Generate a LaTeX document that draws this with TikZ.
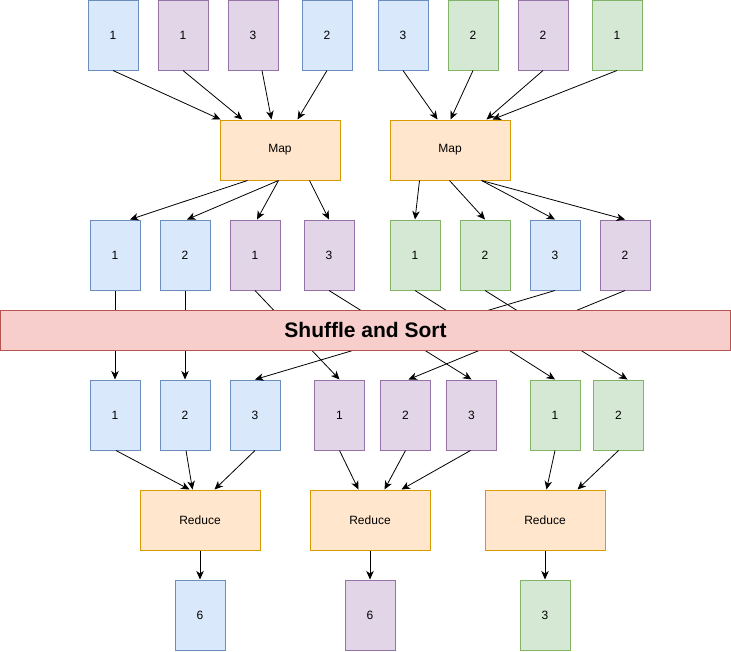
\documentclass[tikz,border=0pt]{standalone}
\usepackage{fontspec}
\setmainfont{Liberation Sans}
\usetikzlibrary{arrows.meta}
\definecolor{bluefill}{HTML}{DAE8FC}\definecolor{blueline}{HTML}{6C8EBF}
\definecolor{purplefill}{HTML}{E1D5E7}\definecolor{purpleline}{HTML}{9673A6}
\definecolor{greenfill}{HTML}{D5E8D4}\definecolor{greenline}{HTML}{82B366}
\definecolor{orangefill}{HTML}{FFE6CC}\definecolor{orangeline}{HTML}{D79B00}
\definecolor{redfill}{HTML}{F8CECC}\definecolor{redline}{HTML}{B85450}
\tikzset{
  card/.style={draw, line width=1pt, minimum width=50pt, minimum height=70pt, inner sep=0pt,
    font=\fontsize{12}{14}\selectfont},
  bluecard/.style={card, fill=bluefill, draw=blueline},
  purplecard/.style={card, fill=purplefill, draw=purpleline},
  greencard/.style={card, fill=greenfill, draw=greenline},
  job/.style={draw=orangeline, fill=orangefill, line width=1pt, minimum width=120pt, minimum height=60pt,
    inner sep=0pt, font=\fontsize{12}{14}\selectfont},
  >={Stealth[length=8.5pt,width=7.5pt,inset=2.5pt]}
}
\begin{document}
\begin{tikzpicture}[x=1pt,y=-1pt,line width=0.8pt]
                \useasboundingbox (0,0) rectangle (731,651);
                % input splits
                \node[bluecard]   (t1) at (113,35) {1};
                \node[purplecard] (t2) at (183,35) {1};
                \node[purplecard] (t3) at (253,35) {3};
                \node[bluecard]   (t4) at (327,35) {2};
                \node[bluecard]   (t5) at (403,35) {3};
                \node[greencard]  (t6) at (473,35) {2};
                \node[purplecard] (t7) at (543,35) {2};
                \node[greencard]  (t8) at (617,35) {1};
                % map
                \node[job] (map1) at (280,150) {Map};
                \node[job] (map2) at (450,150) {Map};
                \draw[->] (t1.south) -- ([xshift=1pt]map1.north west);
                \draw[->] (t2.south) -- ([xshift=23pt]map1.north west);
                \draw[->] ([xshift=9pt]t3.south) -- ([xshift=52pt]map1.north west);
                \draw[->] (t4.south) -- ([xshift=78pt]map1.north west);
                \draw[->] (t5.south) -- ([xshift=48pt]map2.north west);
                \draw[->] (t6.south) -- ([xshift=61pt]map2.north west);
                \draw[->] (t7.south) -- ([xshift=97pt]map2.north west);
                \draw[->] (t8.south) -- ([xshift=103pt]map2.north west);
                % map output
                \node[bluecard]   (m1) at (115,255) {1};
                \node[bluecard]   (m2) at (185,255) {2};
                \node[purplecard] (m3) at (255,255) {1};
                \node[purplecard] (m4) at (329,255) {3};
                \node[greencard]  (m5) at (415,255) {1};
                \node[greencard]  (m6) at (485,255) {2};
                \node[bluecard]   (m7) at (555,255) {3};
                \node[purplecard] (m8) at (625,255) {2};
                \draw[->] ([xshift=28pt]map1.south west) -- ([xshift=15pt]m1.north);
                \draw[->] ([xshift=59pt]map1.south west) -- ([xshift=2pt]m2.north);
                \draw[->] ([xshift=59pt]map1.south west) -- ([xshift=2pt]m3.north);
                \draw[->] ([xshift=90pt]map1.south west) -- (m4.north);
                \draw[->] ([xshift=30pt]map2.south west) -- (m5.north);
                \draw[->] ([xshift=60pt]map2.south west) -- (m6.north);
                \draw[->] ([xshift=92pt]map2.south west) -- (m7.north);
                \draw[->] ([xshift=92pt]map2.south west) -- (m8.north);
                % grouped by key
                \node[bluecard]   (b1) at (115,415) {1};
                \node[bluecard]   (b2) at (185,415) {2};
                \node[bluecard]   (b3) at (255,415) {3};
                \node[purplecard] (b4) at (339.5,415) {1};
                \node[purplecard] (b5) at (405.5,415) {2};
                \node[purplecard] (b6) at (471.5,415) {3};
                \node[greencard]  (b7) at (555,415) {1};
                \node[greencard]  (b8) at (618.5,415) {2};
                \draw[->] (m1.south) -- (b1.north);
                \draw[->] (m2.south) -- (b2.north);
                \draw[->] (m3.south) -- (b4.north);
                \draw[->] (m4.south) -- (b6.north);
                \draw[->] (m5.south) -- (b7.north);
                \draw[->] (m6.south) -- ([xshift=9pt]b8.north);
                \draw[->] (m7.south) -- (b3.north);
                \draw[->] (m8.south) -- ([xshift=3pt]b5.north);
                % reduce
                \node[job] (red1) at (200,520) {Reduce};
                \node[job] (red2) at (370,520) {Reduce};
                \node[job] (red3) at (545,520) {Reduce};
                \draw[->] ([xshift=1pt]b1.south) -- ([xshift=50pt]red1.north west);
                \draw[->] ([xshift=1pt]b2.south) -- ([xshift=53pt]red1.north west);
                \draw[->] (b3.south) -- ([xshift=75pt]red1.north west);
                \draw[->] (b4.south) -- ([xshift=49pt]red2.north west);
                \draw[->] (b5.south) -- ([xshift=75pt]red2.north west);
                \draw[->] ([xshift=-1pt]b6.south) -- ([xshift=92pt]red2.north west);
                \draw[->] (b7.south) -- ([xshift=62pt]red3.north west);
                \draw[->] (b8.south) -- ([xshift=93pt]red3.north west);
                % results
                \node[bluecard]   (r1) at (200,615) {6};
                \node[purplecard] (r2) at (370,615) {6};
                \node[greencard]  (r3) at (545,615) {3};
                \draw[->] (red1.south) -- (r1.north);
                \draw[->] (red2.south) -- (r2.north);
                \draw[->] (red3.south) -- (r3.north);
                % shuffle bar on top of the crossing lines
                \node[draw=redline, fill=redfill, line width=1pt, minimum width=730pt, minimum height=40pt,
                  inner sep=0pt, font=\fontsize{21}{24}\selectfont\bfseries] (shuffle) at (365.5,330) {Shuffle and Sort};
            \end{tikzpicture}
\end{document}
